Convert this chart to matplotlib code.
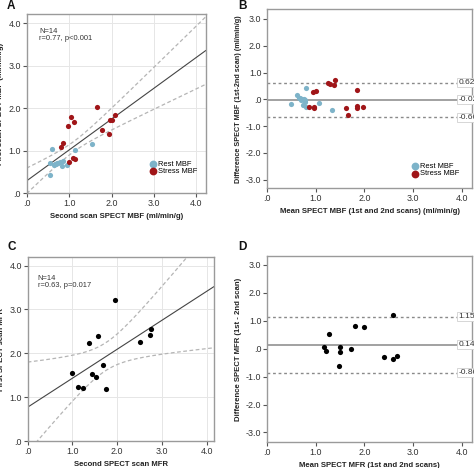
import numpy as np
import matplotlib
matplotlib.use("Agg")
import matplotlib.pyplot as plt

# ---------------- data ----------------
rest_second = [0.60, 1.14, 1.54, 0.55, 0.64, 0.69, 0.74, 0.78, 0.85, 0.94, 0.83, 0.56, 0.71, 0.66]
rest_first = [1.04, 1.02, 1.15, 0.71, 0.67, 0.69, 0.71, 0.74, 0.75, 0.67, 0.64, 0.42, 0.72, 0.70]
stress_second = [1.66, 1.04, 1.11, 0.97, 1.96, 2.00, 2.09, 1.77, 1.95, 0.86, 0.80, 1.09, 1.14, 1.00]
stress_first = [2.03, 1.79, 1.67, 1.58, 1.72, 1.72, 1.84, 1.48, 1.39, 1.18, 1.09, 0.83, 0.81, 0.73]

rest_mean = [0.49, 0.62, 0.65, 0.68, 0.72, 0.75, 0.78, 0.80, 0.73, 0.81, 0.79, 1.07, 1.34, 0.70]
rest_diff = [-0.16, 0.16, 0.06, 0.04, 0.01, 0.00, -0.03, 0.41, -0.21, -0.27, -0.09, -0.15, -0.39, -0.04]
stress_mean = [1.25, 1.29, 1.40, 1.38, 0.94, 1.01, 1.84, 0.86, 0.96, 0.97, 1.62, 1.66, 1.84, 1.85, 1.97]
stress_diff = [0.60, 0.58, 0.72, 0.55, 0.27, 0.31, 0.35, -0.27, -0.27, -0.34, -0.31, -0.57, -0.25, -0.31, -0.27]
loa_mbf = [0.62, -0.02, -0.66]
loa_mbf_labels = ["0.62", "-0.02", "-0.66"]

mfr_second = [0.99, 1.13, 1.24, 1.37, 1.43, 1.53, 1.57, 1.69, 1.75, 1.96, 2.52, 2.73, 2.76]
mfr_first = [1.56, 1.24, 1.21, 2.23, 1.54, 1.46, 2.40, 1.74, 1.20, 3.22, 2.27, 2.41, 2.55]

mfr_mean = [2.59, 1.81, 1.99, 1.27, 1.18, 1.22, 1.49, 1.50, 1.72, 1.47, 2.40, 2.58, 2.67]
mfr_diff = [1.22, 0.81, 0.78, 0.53, 0.06, -0.08, 0.06, -0.11, -0.01, -0.61, -0.31, -0.37, -0.27]
loa_mfr = [1.15, 0.14, -0.86]
loa_mfr_labels = ["1.15", "0.14", "-0.86"]

ticks_xy = [0, 1, 2, 3, 4]
tick_labels_xy = [".0", "1.0", "2.0", "3.0", "4.0"]
ticks_diff = [-3, -2, -1, 0, 1, 2, 3]
tick_labels_diff = ["-3.0", "-2.0", "-1.0", ".0", "1.0", "2.0", "3.0"]

REST_C = "#7db3c9"
STRESS_C = "#a01518"
SPINE_C = "#9a9a9a"
GRID_C = "#e6e6e6"

plt.rcParams["font.family"] = ["Liberation Sans", "DejaVu Sans"]

fig = plt.figure(figsize=(4.74, 4.68), dpi=100)
axA = fig.add_axes([0.0563, 0.587, 0.3776, 0.383])
axB = fig.add_axes([0.5633, 0.5976, 0.4325, 0.383])
axC = fig.add_axes([0.0584, 0.057, 0.3924, 0.3944])
axD = fig.add_axes([0.5633, 0.055, 0.4325, 0.397])


def t_crit(df, z=1.959964):
    return z + (z**3 + z) / (4 * df) + (5 * z**5 + 16 * z**3 + 3 * z) / (96 * df**2)


def style(ax, grid):
    for s in ax.spines.values():
        s.set_color(SPINE_C)
        s.set_linewidth(1.0)
    ax.tick_params(direction="out", length=3, width=0.8, color="#555555",
                   labelsize=6.4, labelcolor="#333333", pad=1.0)
    if grid:
        ax.grid(True, color=GRID_C, linewidth=0.7)
        ax.set_axisbelow(True)


def reg_with_ci(ax, x, y, xmax):
    x = np.asarray(x, float)
    y = np.asarray(y, float)
    n = len(x)
    slope, icpt = np.polyfit(x, y, 1)
    res = y - (icpt + slope * x)
    s = np.sqrt(np.sum(res**2) / (n - 2))
    xbar = x.mean()
    sxx = np.sum((x - xbar) ** 2)
    t = t_crit(n - 2)
    xs = np.linspace(0, xmax, 300)
    yh = icpt + slope * xs
    hw = t * s * np.sqrt(1.0 / n + (xs - xbar) ** 2 / sxx)
    ax.plot(xs, yh, color="#444444", lw=0.8, zorder=2)
    ax.plot(xs, yh + hw, color="#b5b5b5", lw=0.9, ls=(0, (3, 2)), zorder=2)
    ax.plot(xs, yh - hw, color="#b5b5b5", lw=0.9, ls=(0, (3, 2)), zorder=2)


def loa(ax, vals, labels):
    for i, (v, lab) in enumerate(zip(vals, labels)):
        if i == 1:
            ax.axhline(v, color="#9a9a9a", lw=1.3, zorder=1)
        else:
            ax.axhline(v, color="#8a8a8a", lw=1.0, ls=(0, (2, 2)), zorder=1)
        ax.text(3.93, v, lab, fontsize=6.0, color="#333333", va="center", ha="left",
                clip_on=False, zorder=5,
                bbox=dict(boxstyle="square,pad=0.12", fc="white", ec="#d0d0d0", lw=0.6))


lab_kw = dict(fontsize=5.6, fontweight="bold", color="#222222")
leg_kw = dict(frameon=False, fontsize=5.4, handlelength=0.8, handletextpad=0.3,
              labelspacing=0.05, markerscale=1.5, borderpad=0.2, borderaxespad=0)
PT = 14

# ---------------- A ----------------
style(axA, True)
reg_with_ci(axA, rest_second + stress_second, rest_first + stress_first, 4.22)
axA.scatter(rest_second, rest_first, s=PT, color=REST_C, zorder=3, label="Rest MBF", lw=0)
axA.scatter(stress_second, stress_first, s=PT, color=STRESS_C, zorder=3, label="Stress MBF", lw=0)
axA.set_xlim(0, 4.22)
axA.set_ylim(0, 4.22)
axA.set_xticks(ticks_xy, tick_labels_xy)
axA.set_yticks(ticks_xy, tick_labels_xy)
axA.set_xlabel("Second scan SPECT MBF (ml/min/g)", labelpad=4, **lab_kw)
axA.set_ylabel("First scan SPECT MBF (ml/min/g)", labelpad=3, **lab_kw)
axA.text(0.3, 3.9, "N=14\nr=0.77, p<0.001", fontsize=5.4, color="#333333", va="top",
         linespacing=1.0)
axA.legend(loc="center left", bbox_to_anchor=(0.68, 0.141), **leg_kw)

# ---------------- B ----------------
style(axB, False)
loa(axB, loa_mbf, loa_mbf_labels)
axB.scatter(rest_mean, rest_diff, s=PT, color=REST_C, zorder=3, label="Rest MBF", lw=0)
axB.scatter(stress_mean, stress_diff, s=PT, color=STRESS_C, zorder=3, label="Stress MBF", lw=0)
axB.set_xlim(0, 4.21)
axB.set_ylim(-3.32, 3.37)
axB.set_xticks(ticks_xy, tick_labels_xy)
axB.set_yticks(ticks_diff, tick_labels_diff)
axB.set_xlabel("Mean SPECT MBF (1st and 2nd scans) (ml/min/g)", labelpad=4, **lab_kw)
axB.set_ylabel("Difference SPECT MBF (1st-2nd scan) (ml/min/g)", labelpad=3,
               fontsize=5.2, fontweight="bold", color="#222222")
axB.legend(loc="center left", bbox_to_anchor=(0.70, 0.102), **leg_kw)

# ---------------- C ----------------
style(axC, True)
reg_with_ci(axC, mfr_second, mfr_first, 4.16)
axC.scatter(mfr_second, mfr_first, s=PT, color="black", zorder=3, lw=0)
axC.set_xlim(0, 4.16)
axC.set_ylim(0, 4.2)
axC.set_xticks(ticks_xy, tick_labels_xy)
axC.set_yticks(ticks_xy, tick_labels_xy)
axC.set_xlabel("Second SPECT scan MFR", labelpad=4, **lab_kw)
axC.set_ylabel("First SPECT scan MFR", labelpad=3, **lab_kw)
axC.text(0.22, 3.78, "N=14\nr=0.63, p=0.017", fontsize=5.4, color="#333333", va="top",
         linespacing=1.0)

# ---------------- D ----------------
style(axD, False)
loa(axD, loa_mfr, loa_mfr_labels)
axD.scatter(mfr_mean, mfr_diff, s=PT, color="black", zorder=3, lw=0)
axD.set_xlim(0, 4.21)
axD.set_ylim(-3.35, 3.3)
axD.set_xticks(ticks_xy, tick_labels_xy)
axD.set_yticks(ticks_diff, tick_labels_diff)
axD.set_xlabel("Mean SPECT MFR (1st and 2nd scans)", labelpad=4, **lab_kw)
axD.set_ylabel("Difference SPECT MFR (1st - 2nd scan)", labelpad=3, **lab_kw)

# panel letters
for lab, (x, y) in zip("ABCD", [(0.014, 0.999), (0.503, 0.999), (0.016, 0.484), (0.503, 0.484)]):
    fig.text(x, y, lab, fontsize=8.5, fontweight="bold", va="top", ha="left", color="#111111")

fig.savefig("out.png", dpi=100, facecolor="white")
